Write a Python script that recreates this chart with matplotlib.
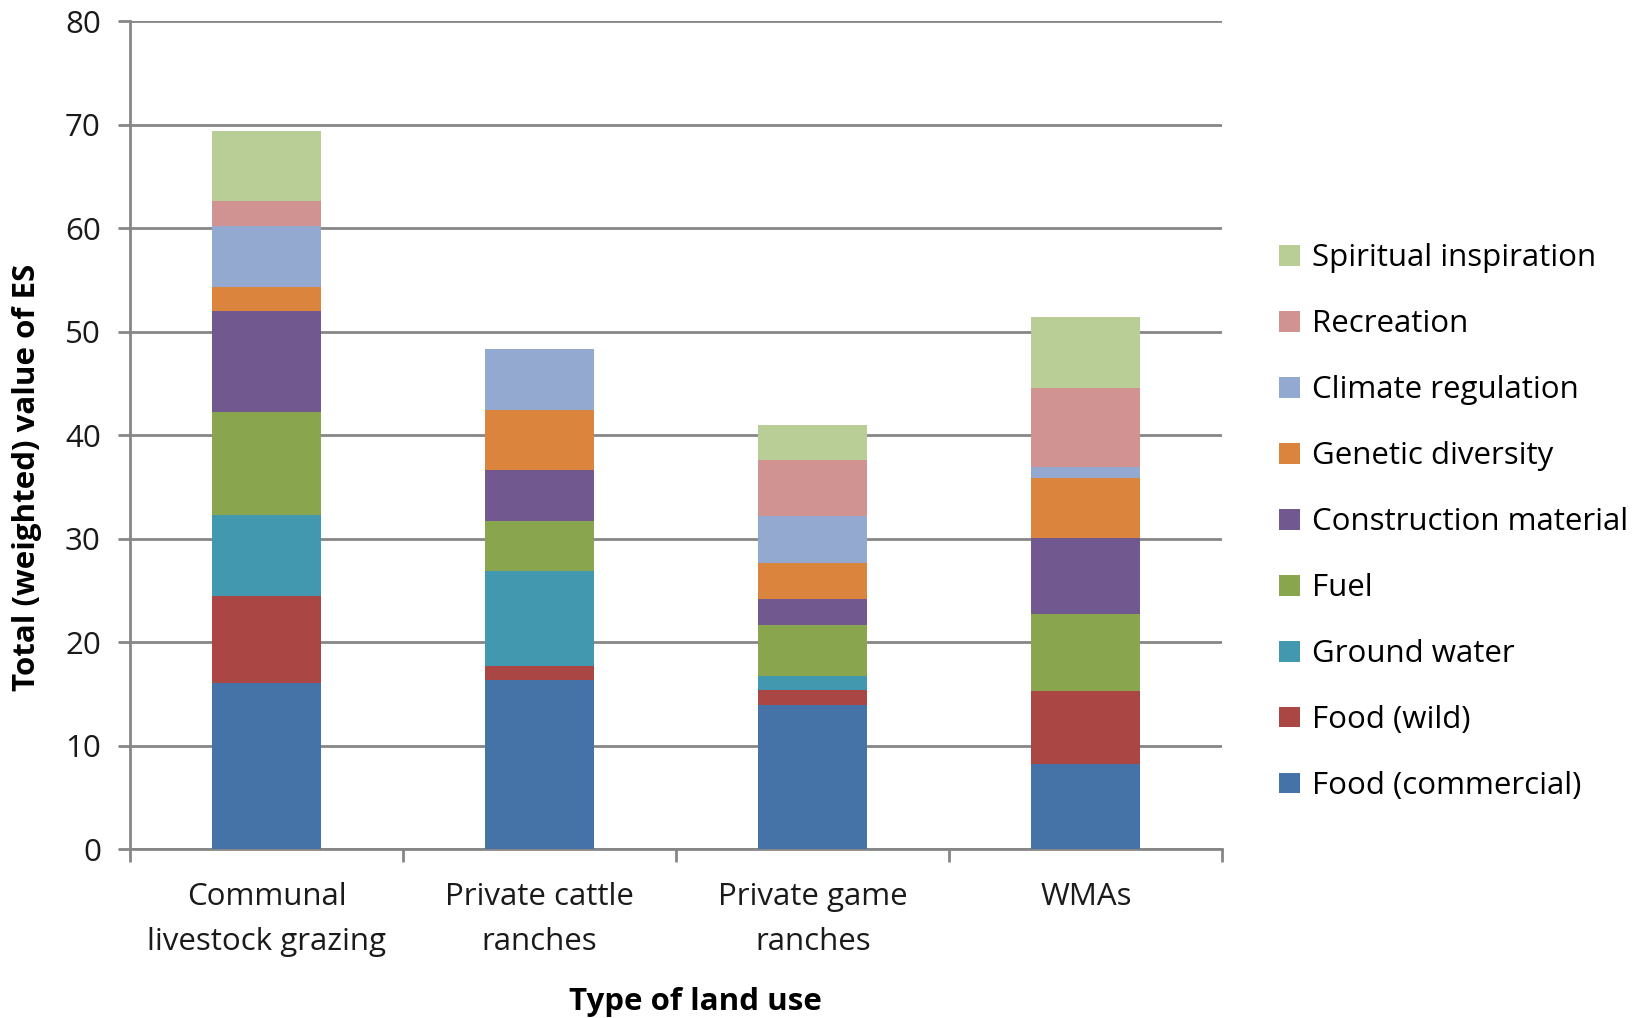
import numpy as np
import matplotlib
matplotlib.use("Agg")
import matplotlib.pyplot as plt

plt.rcParams['font.family'] = ['Open Sans', 'DejaVu Sans']

land_uses = ['Communal\nlivestock grazing', 'Private cattle\nranches',
             'Private game\nranches', 'WMAs']

services = ['Food (commercial)', 'Food (wild)', 'Ground water', 'Fuel',
            'Construction material', 'Genetic diversity', 'Climate regulation',
            'Recreation', 'Spiritual inspiration']

food_commercial = [16.0, 16.3, 13.9, 8.2]
food_wild = [8.5, 1.4, 1.45, 7.1]
ground_water = [7.8, 9.15, 1.4, 0.0]
fuel = [9.9, 4.85, 4.95, 7.4]
construction = [9.8, 4.95, 2.45, 7.4]
genetic = [2.3, 5.8, 3.45, 5.8]
climate = [5.9, 5.9, 4.6, 1.0]
recreation = [2.4, 0.0, 5.4, 7.65]
spiritual = [6.85, 0.0, 3.4, 6.85]

series = [food_commercial, food_wild, ground_water, fuel, construction,
          genetic, climate, recreation, spiritual]
colors = ['#4572A7', '#AA4643', '#4198AF', '#89A54E', '#71588F',
          '#DB843D', '#93A9CF', '#D19392', '#B9CD96']

fs = 22.5

fig = plt.figure(figsize=(16.32, 10.18), dpi=100)
ax = fig.add_axes([0.0797, 0.166, 0.6693, 0.813])

x = np.arange(len(land_uses))
bottom = np.zeros(len(land_uses))
handles = []
for vals, name, c in zip(series, services, colors):
    b = ax.bar(x, vals, 0.4, bottom=bottom, color=c, label=name, zorder=3,
               edgecolor='none')
    handles.append(b)
    bottom += np.array(vals)

gray = '#868686'
ax.set_xlim(-0.5, 3.5)
ax.set_ylim(0, 80)
ax.set_yticks(np.arange(0, 81, 10))
ax.yaxis.grid(True, color=gray, linewidth=2, zorder=0)
for s in ['top', 'right']:
    ax.spines[s].set_visible(False)
for s in ['left', 'bottom']:
    ax.spines[s].set_color(gray)
    ax.spines[s].set_linewidth(2)

# boundary ticks on major, category labels on minor
ax.set_xticks(np.arange(-0.5, 3.6, 1))
ax.set_xticklabels([])
ax.set_xticks(x, minor=True)
ax.set_xticklabels(land_uses, minor=True, fontsize=fs, color='#1a1a1a',
                   linespacing=1.65)
ax.tick_params(axis='x', which='major', length=9, width=2, color=gray)
ax.tick_params(axis='x', which='minor', length=0, pad=24)
ax.tick_params(axis='y', length=9, width=2, color=gray, labelsize=fs,
               labelcolor='#1a1a1a', pad=12)

ax.set_ylabel('Total (weighted) value of ES', fontsize=fs, fontweight='bold')
ax.yaxis.set_label_coords(-0.081, 0.4485)
ax.set_xlabel('Type of land use', fontsize=fs, fontweight='bold')
ax.xaxis.set_label_coords(0.5176, -0.1667)

fig.legend(handles[::-1], services[::-1], loc='center left',
           bbox_to_anchor=(0.784, 0.487), frameon=False, fontsize=fs,
           handlelength=0.65, handleheight=0.65, handletextpad=0.4,
           labelspacing=1.15, borderpad=0, borderaxespad=0)

fig.savefig('out.png', dpi=100)
